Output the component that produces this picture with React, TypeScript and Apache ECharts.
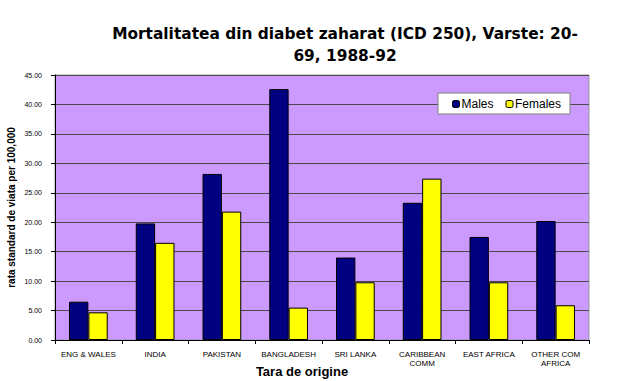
import React, { useEffect, useRef } from "react";
import * as echarts from "echarts";

const categories = [
  "ENG & WALES",
  "INDIA",
  "PAKISTAN",
  "BANGLADESH",
  "SRI LANKA",
  "CARIBBEAN\nCOMM",
  "EAST AFRICA",
  "OTHER COM\nAFRICA",
];
const males = [6.5, 19.8, 28.2, 42.6, 14.0, 23.3, 17.5, 20.2];
const females = [4.7, 16.5, 21.8, 5.5, 9.8, 27.4, 9.8, 5.9];
const yTicks = { min: 0, max: 45, interval: 5 };

export default function App() {
  const ref = useRef<HTMLDivElement>(null);
  useEffect(() => {
    if (!ref.current) return;
    const chart = echarts.init(ref.current, null, { renderer: "svg" });
    chart.setOption({
      animation: false,
      backgroundColor: "#ffffff",
      title: {
        text: "Mortalitatea din diabet zaharat (ICD 250), Varste: 20-\n69, 1988-92",
        left: 340,
        top: 18,
        textAlign: "center",
        textStyle: {
          fontFamily: "DejaVu Sans",
          fontWeight: "bold",
          fontSize: 15.4,
          color: "#000",
          lineHeight: 22,
        },
      },
      legend: {
        right: 54,
        top: 93,
        itemWidth: 7,
        itemHeight: 7,
        itemGap: 12,
        backgroundColor: "#ffffff",
        borderColor: "#808080",
        borderWidth: 1,
        borderRadius: 0,
        padding: [5, 9, 4, 14],
        textStyle: { fontFamily: "Liberation Sans", fontSize: 12, color: "#000", padding: [0, 0, 0, -3] },
        data: [
          { name: "Males", itemStyle: { color: "#000080", borderColor: "#000", borderWidth: 1 } },
          { name: "Females", itemStyle: { color: "#ffff00", borderColor: "#000", borderWidth: 1 } },
        ],
      },
      grid: {
        left: 55,
        right: 35,
        top: 75,
        bottom: 41,
        outerBoundsMode: "none",
        containLabel: false,
        show: true,
        backgroundColor: "#CC99FF",
        borderColor: "#999999",
        borderWidth: 1,
      },
      xAxis: {
        type: "category",
        data: categories,
        name: "Tara de origine",
        nameLocation: "middle",
        nameGap: 25,
        nameMoveOverlap: false,
        nameTextStyle: {
          fontFamily: "Liberation Sans",
          fontWeight: "bold",
          fontSize: 13,
          color: "#000",
          padding: [0, 40, 0, 0],
        },
        axisLine: { lineStyle: { color: "#000", width: 1 } },
        axisTick: { show: true, alignWithLabel: false, length: 4, lineStyle: { color: "#000" } },
        axisLabel: {
          interval: 0,
          fontFamily: "Liberation Sans",
          fontSize: 8,
          color: "#000",
          margin: 10,
          lineHeight: 9,
        },
      },
      yAxis: {
        type: "value",
        min: yTicks.min,
        max: yTicks.max,
        interval: yTicks.interval,
        name: "rata standard de viata per 100,000",
        nameLocation: "middle",
        nameGap: 39,
        nameMoveOverlap: false,
        nameTextStyle: {
          fontFamily: "Liberation Sans",
          fontWeight: "bold",
          fontSize: 10,
          color: "#000",
        },
        axisLine: { show: true, lineStyle: { color: "#000", width: 1 } },
        axisTick: { show: true, length: 4, lineStyle: { color: "#000" } },
        axisLabel: {
          fontFamily: "Liberation Sans",
          fontSize: 7,
          color: "#000",
          margin: 13,
          formatter: (v: number) => v.toFixed(2),
        },
        splitLine: { show: true, lineStyle: { color: "#4a4a4a", width: 1 } },
      },
      series: [
        {
          name: "Males",
          type: "bar",
          data: males,
          barGap: "0%",
          barCategoryGap: "42%",
          itemStyle: { color: "#000080", borderColor: "#000", borderWidth: 1 },
        },
        {
          name: "Females",
          type: "bar",
          data: females,
          barGap: "0%",
          barCategoryGap: "42%",
          itemStyle: { color: "#ffff00", borderColor: "#000", borderWidth: 1 },
        },
      ],
    });
    return () => chart.dispose();
  }, []);
  return (
    <div
      ref={ref}
      style={{ position: "fixed", left: 0, top: 0, width: 624, height: 381 }}
    />
  );
}
